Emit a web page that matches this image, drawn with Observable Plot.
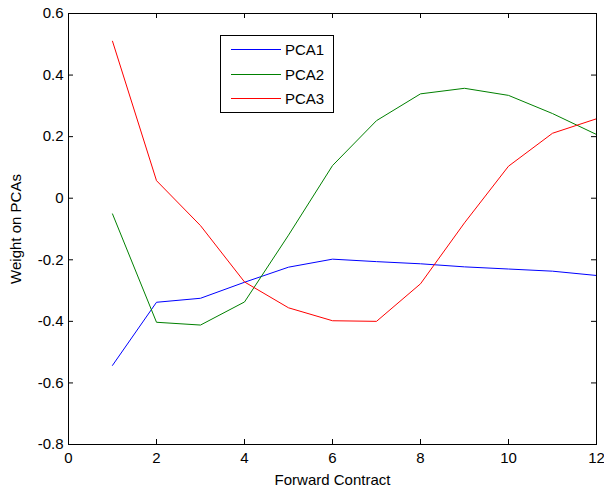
<!DOCTYPE html>
<html>
<head>
<meta charset="utf-8">
<script src="https://cdn.jsdelivr.net/npm/d3@7"></script>
<script src="https://cdn.jsdelivr.net/npm/@observablehq/plot@0.6"></script>
<style>
  html, body { margin: 0; padding: 0; background: #fff; }
  #wrap { position: relative; width: 604px; height: 493px; font-family: "Liberation Sans", Arial, sans-serif; }
  #legend { position: absolute; left: 220px; top: 35px; width: 112px; height: 76px; border: 1px solid #000; background: #fff; box-sizing: content-box; }
  .row { position: absolute; left: 0; height: 20px; width: 112px; font-size: 15px; line-height: 20px; }
  .row .sw { position: absolute; left: 10px; top: 9px; width: 50px; height: 0; border-top: 1px solid; }
  .row .lb { position: absolute; left: 64px; top: 0; }
</style>
</head>
<body>
<div id="wrap"></div>
<script>
const contracts = [1, 2, 3, 4, 5, 6, 7, 8, 9, 10, 11, 12];
const pca1 = [-0.543, -0.338, -0.325, -0.273, -0.224, -0.198, -0.206, -0.213, -0.223, -0.230, -0.237, -0.251];
const pca2 = [-0.051, -0.403, -0.412, -0.337, -0.120, 0.106, 0.252, 0.339, 0.357, 0.334, 0.275, 0.207];
const pca3 = [0.510, 0.057, -0.089, -0.272, -0.356, -0.398, -0.400, -0.278, -0.080, 0.104, 0.211, 0.258];
const seriesNames = ["PCA1", "PCA2", "PCA3"];
const seriesColors = ["#0000ff", "#008000", "#ff0000"];
const xTicks = [0, 2, 4, 6, 8, 10, 12];
const yTicks = [-0.8, -0.6, -0.4, -0.2, 0, 0.2, 0.4, 0.6];

const seriesValues = [pca1, pca2, pca3];
const data = [];
seriesNames.forEach((name, i) => {
  contracts.forEach((c, j) => data.push({series: name, x: c, y: seriesValues[i][j]}));
});

const W = 604, H = 493, ML = 68, MR = 8, MT = 13, MB = 49, TICK = 5;
const frameW = W - ML - MR, frameH = H - MT - MB;

const yFmt = d => (Math.abs(d) < 1e-9 ? "0" : d3.format(".1f")(d).replace("−", "-"));

const chart = Plot.plot({
  width: W,
  height: H,
  marginLeft: ML,
  marginRight: MR,
  marginTop: MT,
  marginBottom: MB,
  style: {fontFamily: "'Liberation Sans', Arial, sans-serif", fontSize: "15px", background: "#fff", color: "#000"},
  x: {domain: [0, 12]},
  y: {domain: [-0.8, 0.6]},
  color: {domain: seriesNames, range: seriesColors},
  marks: [
    Plot.line(data, {x: "x", y: "y", z: "series", stroke: "series", strokeWidth: 1}),
    Plot.axisX({anchor: "bottom", ticks: xTicks, tickSize: 0, tickPadding: 8, tickFormat: d => String(d),
      label: "Forward Contract", labelAnchor: "center", labelArrow: "none", labelOffset: 40, fontSize: 15}),
    Plot.axisY({anchor: "left", ticks: yTicks, tickSize: 0, tickPadding: 5, tickFormat: yFmt,
      label: "Weight on PCAs", labelAnchor: "center", labelArrow: "none", labelOffset: 58, fontSize: 15}),
    // inward tick marks on all four sides
    Plot.tickX(xTicks, {x: d => d, stroke: "#000", insetTop: frameH - TICK}),
    Plot.tickX(xTicks, {x: d => d, stroke: "#000", insetBottom: frameH - TICK}),
    Plot.tickY(yTicks, {y: d => d, stroke: "#000", insetRight: frameW - TICK}),
    Plot.tickY(yTicks, {y: d => d, stroke: "#000", insetLeft: frameW - TICK}),
    Plot.frame({stroke: "#000", strokeWidth: 1})
  ]
});

const wrap = document.getElementById("wrap");
wrap.appendChild(chart);

const legend = document.createElement("div");
legend.id = "legend";
seriesNames.forEach((name, i) => {
  const row = document.createElement("div");
  row.className = "row";
  row.style.top = (4 + i * 24.5) + "px";
  const sw = document.createElement("div");
  sw.className = "sw";
  sw.style.borderTopColor = seriesColors[i];
  const lb = document.createElement("div");
  lb.className = "lb";
  lb.textContent = name;
  row.appendChild(sw);
  row.appendChild(lb);
  legend.appendChild(row);
});
wrap.appendChild(legend);
</script>
</body>
</html>
